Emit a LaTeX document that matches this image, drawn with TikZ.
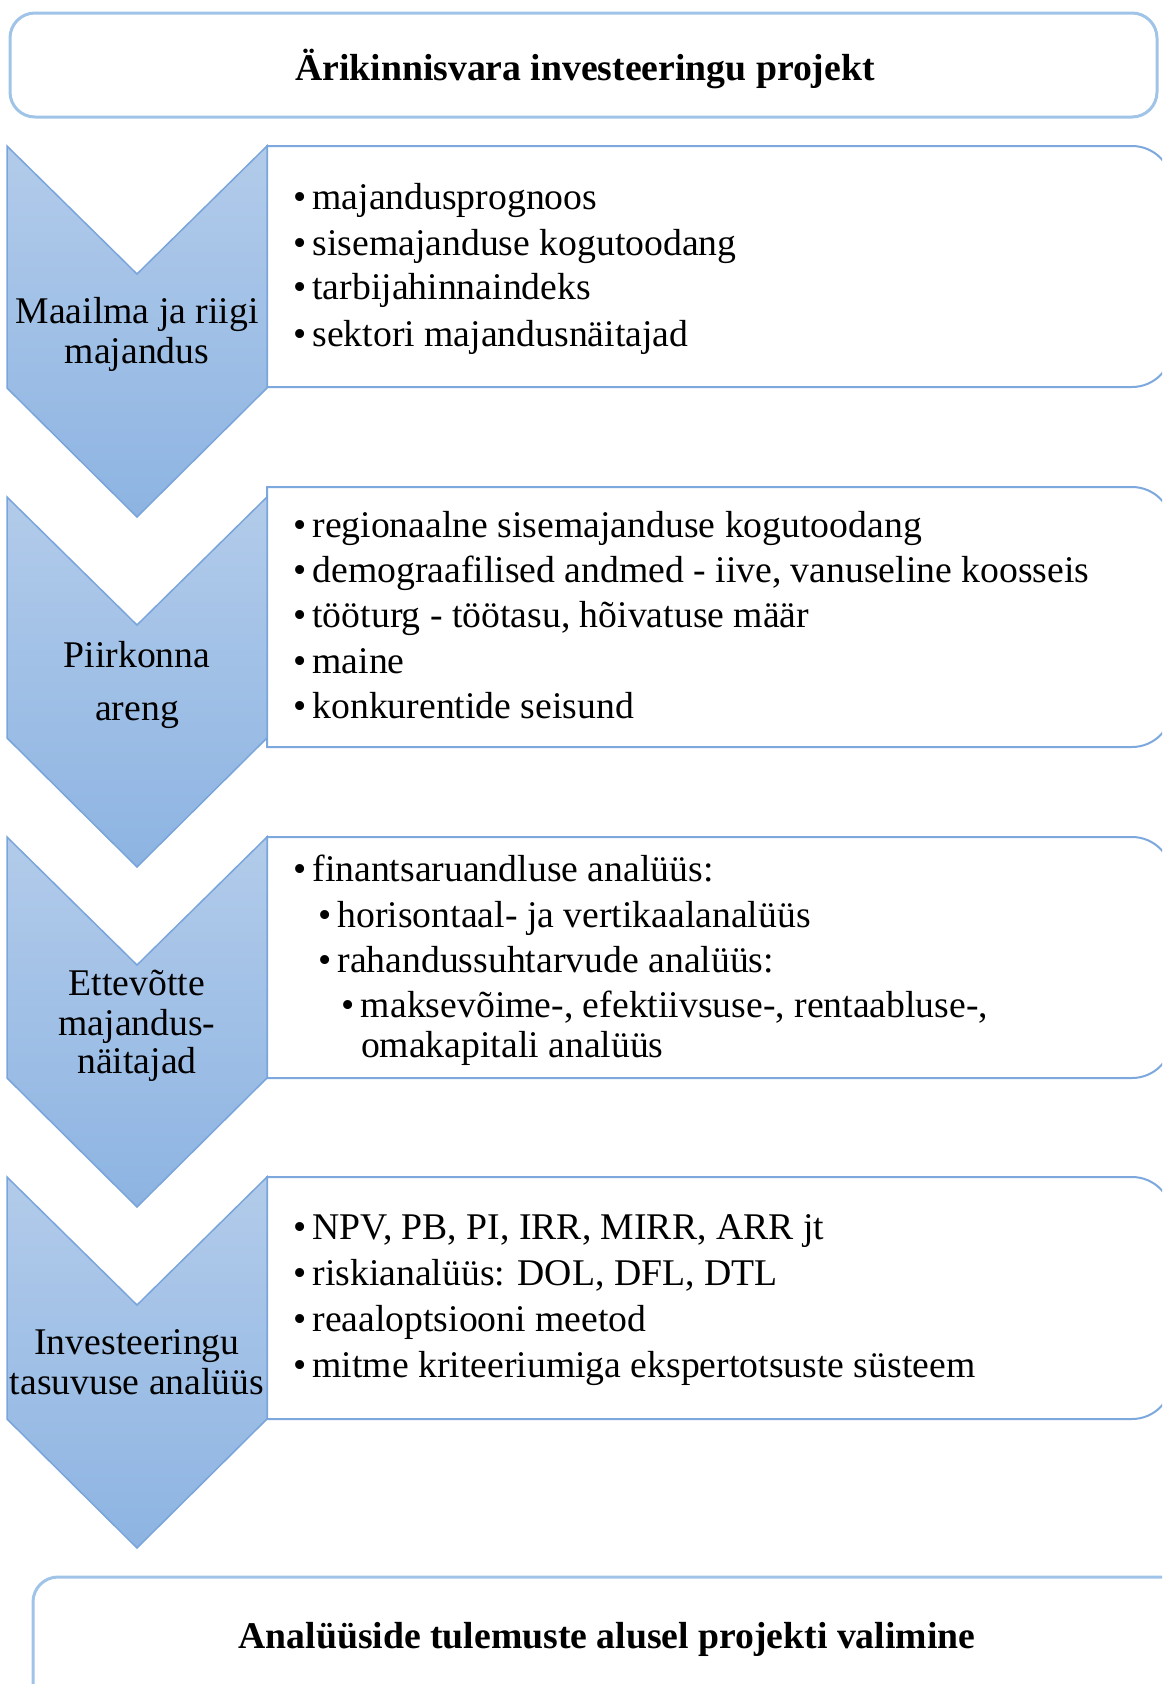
\documentclass[tikz,border=0pt]{standalone}
\usepackage{fontspec}
\setmainfont{Liberation Serif}
\definecolor{chevtop}{RGB}{178,203,234}
\definecolor{chevbot}{RGB}{141,180,226}
\definecolor{chevline}{RGB}{122,165,219}
\definecolor{boxline}{RGB}{125,168,222}
\definecolor{titleline}{RGB}{160,196,232}
\tikzset{
  txt/.style={inner sep=0pt, outer sep=0pt, yshift=-8.5pt, font=\fontsize{37.7}{45}\selectfont},
  item/.style={txt, anchor=mid west},
  lab/.style={txt, anchor=mid},
  chev/.style={draw=chevline, line width=1.5pt, top color=chevtop, bottom color=chevbot},
  listbox/.style={draw=boxline, line width=2pt, fill=white},
  framebox/.style={draw=titleline, line width=3pt, fill=white, rounded corners=25pt}
}
\newcommand{\bul}{\makebox[19.5pt][l]{•}}
\begin{document}
\begin{tikzpicture}[x=1pt,y=-1pt]
\useasboundingbox (0,0) rectangle (1162,1684);
\clip (0,0) rectangle (1162,1684);
% top box
\path[framebox] (10,13) rectangle (1157,117);
\node[lab, font=\fontsize{37.7}{45}\selectfont\bfseries] (title) at (585,70) {Ärikinnisvara investeeringu projekt};
% list boxes
\path[listbox] (267,146) -- (1132,146) arc[start angle=-90, end angle=0, radius=40] -- (1172,347) arc[start angle=0, end angle=90, radius=40] -- (267,387) -- cycle;
\path[listbox] (267,487) -- (1132,487) arc[start angle=-90, end angle=0, radius=40] -- (1172,707) arc[start angle=0, end angle=90, radius=40] -- (267,747) -- cycle;
\path[listbox] (267,837) -- (1132,837) arc[start angle=-90, end angle=0, radius=40] -- (1172,1038) arc[start angle=0, end angle=90, radius=40] -- (267,1078) -- cycle;
\path[listbox] (267,1177) -- (1132,1177) arc[start angle=-90, end angle=0, radius=40] -- (1172,1379) arc[start angle=0, end angle=90, radius=40] -- (267,1419) -- cycle;
% chevrons
\path[chev] (7,146) -- (137,274) -- (267,146) -- (267,388) -- (137,517) -- (7,388) -- cycle;
\path[chev] (7,497) -- (137,625) -- (267,497) -- (267,738) -- (137,867) -- (7,738) -- cycle;
\path[chev] (7,837) -- (137,965) -- (267,837) -- (267,1078) -- (137,1207) -- (7,1078) -- cycle;
\path[chev] (7,1177) -- (137,1305) -- (267,1177) -- (267,1419) -- (137,1548) -- (7,1419) -- cycle;
% chevron labels
\node[lab] (c1a) at (137,313) {Maailma ja riigi};
\node[lab] (c1b) at (137,353) {majandus};
\node[lab] (c2a) at (137,657) {Piirkonna};
\node[lab] (c2b) at (137,710) {areng};
\node[lab] (c3a) at (137,985) {Ettevõtte};
\node[lab] (c3b) at (137,1025) {majandus-};
\node[lab] (c3c) at (137,1063) {näitajad};
\node[lab] (c4a) at (137,1344) {Investeeringu};
\node[lab] (c4b) at (137,1384) {tasuvuse analüüs};
% row 1 items
\node[item] (r1a) at (293,199) {\bul majandusprognoos};
\node[item] (r1b) at (293,245) {\bul sisemajanduse kogutoodang};
\node[item] (r1c) at (293,289) {\bul tarbijahinnaindeks};
\node[item] (r1d) at (293,336) {\bul sektori majandusnäitajad};
% row 2 items
\node[item] (r2a) at (293,527) {\bul regionaalne sisemajanduse kogutoodang};
\node[item] (r2b) at (293,572) {\bul demograafilised andmed - iive, vanuseline koosseis};
\node[item] (r2c) at (293,617) {\bul tööturg - töötasu, hõivatuse määr};
\node[item] (r2d) at (293,663) {\bul maine};
\node[item] (r2e) at (293,708) {\bul konkurentide seisund};
% row 3 items
\node[item] (r3a) at (293,871) {\bul finantsaruandluse analüüs:};
\node[item] (r3b) at (318,917) {\bul horisontaal- ja vertikaalanalüüs};
\node[item] (r3c) at (318,962) {\bul rahandussuhtarvude analüüs:};
\node[item] (r3d) at (341.5,1007) {\bul maksevõime-, efektiivsuse-, rentaabluse-,};
\node[item] (r3e) at (361,1047) {omakapitali analüüs};
% row 4 items
\node[item] (r4a) at (293,1229) {\bul NPV, PB, PI, IRR, MIRR, ARR jt};
\node[item] (r4b) at (293,1275) {\bul riskianalüüs: DOL, DFL, DTL};
\node[item] (r4c) at (293,1321) {\bul reaaloptsiooni meetod};
\node[item] (r4d) at (293,1367) {\bul mitme kriteeriumiga ekspertotsuste süsteem};
% bottom box
\path[framebox] (33,1577) rectangle (1190,1730);
\node[lab, font=\fontsize{37.7}{45}\selectfont\bfseries] (result) at (607,1638) {Analüüside tulemuste alusel projekti valimine};
\end{tikzpicture}
\end{document}
